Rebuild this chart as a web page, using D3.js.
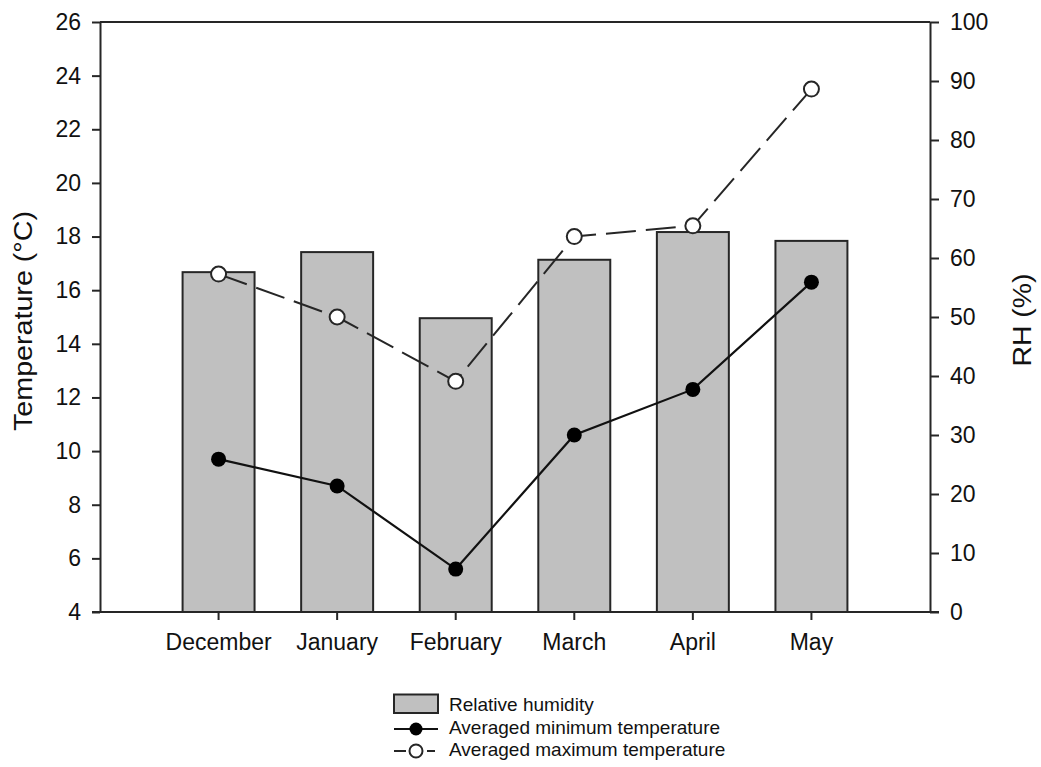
<!DOCTYPE html>
<html>
<head>
<meta charset="utf-8">
<script src="https://cdn.jsdelivr.net/npm/d3@7"></script>
<style>
  html, body { margin: 0; padding: 0; background: #fff; }
  svg { display: block; font-family: "Liberation Sans", Arial, sans-serif; }
</style>
</head>
<body>
<svg id="chart" width="1041" height="767"></svg>
<script>
// Monthly climate data
const months = ["December", "January", "February", "March", "April", "May"];
const relativeHumidity = [57.6, 61.0, 49.8, 59.7, 64.4, 62.9];   // %
const minTemperature = [9.7, 8.7, 5.6, 10.6, 12.3, 16.3];        // °C
const maxTemperature = [16.6, 15.0, 12.6, 18.0, 18.4, 23.5];     // °C
const tempTicks = [4, 6, 8, 10, 12, 14, 16, 18, 20, 22, 24, 26];
const rhTicks = [0, 10, 20, 30, 40, 50, 60, 70, 80, 90, 100];
const legendLabels = ["Relative humidity", "Averaged minimum temperature", "Averaged maximum temperature"];

const ink = "#262626";
const plotLeft = 100, plotRight = 930, plotTop = 22, plotBottom = 612;

const svg = d3.select("#chart");

const x = d3.scaleBand().domain(months).range([plotLeft, plotRight])
  .paddingInner(0.393).paddingOuter(0.6965);
const yT = d3.scaleLinear().domain([4, 26]).range([plotBottom, plotTop]);
const yR = d3.scaleLinear().domain([0, 100]).range([plotBottom, plotTop]);
const cx = d => x(d) + x.bandwidth() / 2;

// Humidity bars
svg.append("g").selectAll("rect")
  .data(months)
  .join("rect")
  .attr("x", d => x(d))
  .attr("width", x.bandwidth())
  .attr("y", (d, i) => yR(relativeHumidity[i]))
  .attr("height", (d, i) => yR(0) - yR(relativeHumidity[i]))
  .attr("fill", "#c0c0c0")
  .attr("stroke", ink)
  .attr("stroke-width", 2);

// Top frame line
svg.append("line")
  .attr("x1", plotLeft).attr("x2", plotRight).attr("y1", plotTop).attr("y2", plotTop)
  .attr("stroke", ink).attr("stroke-width", 2);

function styleAxis(g, size) {
  g.select(".domain").attr("stroke", ink).attr("stroke-width", 2);
  g.selectAll(".tick line").attr("stroke", ink).attr("stroke-width", 2);
  g.selectAll(".tick text").attr("fill", "#111").attr("font-size", size)
    .attr("font-family", "'Liberation Sans', Arial, sans-serif");
}

// Left temperature axis
svg.append("g").attr("transform", `translate(${plotLeft},0)`)
  .call(d3.axisLeft(yT).tickValues(tempTicks).tickSize(8).tickPadding(11).tickSizeOuter(0))
  .call(g => styleAxis(g, 23));

// Right humidity axis
svg.append("g").attr("transform", `translate(${plotRight},0)`)
  .call(d3.axisRight(yR).tickValues(rhTicks).tickSize(9).tickPadding(11).tickSizeOuter(0))
  .call(g => styleAxis(g, 23));

// Bottom month axis
const xAxisG = svg.append("g").attr("transform", `translate(0,${plotBottom})`)
  .call(d3.axisBottom(x).tickSize(8).tickPadding(14).tickSizeOuter(0))
  .call(g => styleAxis(g, 23));
xAxisG.select(".domain").attr("d", `M${plotLeft - 8},0H${plotRight + 9}`);

// Axis titles
svg.append("text")
  .attr("transform", `translate(32,321) rotate(-90)`)
  .attr("text-anchor", "middle").attr("font-size", 26).attr("fill", "#111")
  .attr("textLength", 220).attr("lengthAdjust", "spacingAndGlyphs")
  .text("Temperature (°C)");
svg.append("text")
  .attr("transform", `translate(1031,320) rotate(-90)`)
  .attr("text-anchor", "middle").attr("font-size", 26).attr("fill", "#111")
  .attr("textLength", 93).attr("lengthAdjust", "spacingAndGlyphs")
  .text("RH (%)");

// Maximum temperature: dashed line with open circles
const lineMax = d3.line().x((d, i) => cx(months[i])).y(d => yT(d));
svg.append("path").datum(maxTemperature)
  .attr("d", lineMax).attr("fill", "none")
  .attr("stroke", ink).attr("stroke-width", 2)
  .attr("stroke-dasharray", "30,10");
svg.append("g").selectAll("circle").data(maxTemperature).join("circle")
  .attr("cx", (d, i) => cx(months[i])).attr("cy", d => yT(d))
  .attr("r", 7.5).attr("fill", "#fff").attr("stroke", ink).attr("stroke-width", 2);

// Minimum temperature: solid line with filled circles
const lineMin = d3.line().x((d, i) => cx(months[i])).y(d => yT(d));
svg.append("path").datum(minTemperature)
  .attr("d", lineMin).attr("fill", "none")
  .attr("stroke", "#111").attr("stroke-width", 2.2);
svg.append("g").selectAll("circle").data(minTemperature).join("circle")
  .attr("cx", (d, i) => cx(months[i])).attr("cy", d => yT(d))
  .attr("r", 7.5).attr("fill", "#000");

// Legend
const lg = svg.append("g");
const lx = 394, lw = 44, tx = 449;
lg.append("rect").attr("x", lx).attr("y", 694.5).attr("width", lw).attr("height", 18.5)
  .attr("fill", "#c0c0c0").attr("stroke", ink).attr("stroke-width", 2);
lg.append("line").attr("x1", lx).attr("x2", lx + lw).attr("y1", 729).attr("y2", 729)
  .attr("stroke", "#111").attr("stroke-width", 2);
lg.append("circle").attr("cx", lx + lw / 2).attr("cy", 729).attr("r", 6.5).attr("fill", "#000");
lg.append("line").attr("x1", lx).attr("x2", lx + 12).attr("y1", 751).attr("y2", 751)
  .attr("stroke", ink).attr("stroke-width", 2);
lg.append("line").attr("x1", lx + 33).attr("x2", lx + 41).attr("y1", 751).attr("y2", 751)
  .attr("stroke", ink).attr("stroke-width", 2);
lg.append("circle").attr("cx", lx + lw / 2).attr("cy", 751).attr("r", 6.5)
  .attr("fill", "#fff").attr("stroke", ink).attr("stroke-width", 2);
lg.selectAll("text").data(legendLabels).join("text")
  .attr("x", tx).attr("y", (d, i) => 711 + i * 22.5)
  .attr("font-size", 19).attr("fill", "#111").text(d => d);
</script>
</body>
</html>
